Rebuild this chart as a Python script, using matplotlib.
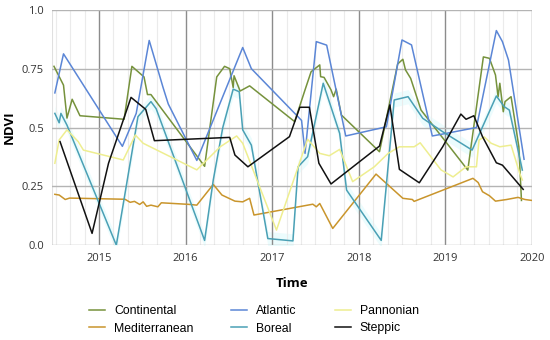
import numpy as np
import matplotlib.pyplot as plt

# decimal years / NDVI
cont_t = [2014.48, 2014.59, 2014.63, 2014.69, 2014.78, 2015.29, 2015.38, 2015.52, 2015.56, 2015.60,
          2016.22, 2016.36, 2016.45, 2016.51, 2016.55, 2016.56, 2016.63, 2016.74, 2017.26, 2017.38,
          2017.45, 2017.55, 2017.56, 2017.60, 2017.68, 2017.71, 2017.74, 2017.80, 2018.24, 2018.45,
          2018.51, 2018.54, 2018.60, 2018.72, 2019.26, 2019.44, 2019.51, 2019.58, 2019.61, 2019.63,
          2019.67, 2019.69, 2019.76, 2019.85, 2019.88]
cont_v = [0.76, 0.68, 0.54, 0.62, 0.55, 0.535, 0.76, 0.715, 0.64, 0.64,
          0.335, 0.715, 0.76, 0.75, 0.67, 0.72, 0.655, 0.677, 0.525, 0.66,
          0.737, 0.766, 0.716, 0.713, 0.66, 0.631, 0.663, 0.553, 0.397, 0.77,
          0.79, 0.745, 0.709, 0.574, 0.319, 0.80, 0.794, 0.723, 0.631, 0.688,
          0.567, 0.61, 0.631, 0.418, 0.19]

atl_t = [2014.49, 2014.59, 2015.27, 2015.43, 2015.58, 2015.74, 2015.80, 2016.13, 2016.66, 2016.76,
         2017.34, 2017.38, 2017.51, 2017.63, 2017.85, 2018.32, 2018.50, 2018.61, 2018.85, 2019.01,
         2019.36, 2019.59, 2019.66, 2019.73, 2019.91]
atl_v = [0.647, 0.813, 0.42, 0.56, 0.87, 0.67, 0.60, 0.36, 0.84, 0.75,
         0.53, 0.39, 0.865, 0.85, 0.464, 0.503, 0.872, 0.851, 0.464, 0.475,
         0.50, 0.912, 0.865, 0.787, 0.365]

pan_t = [2014.49, 2014.54, 2014.63, 2014.76, 2014.82, 2015.28, 2015.42, 2015.51, 2016.13, 2016.40,
         2016.59, 2016.66, 2017.05, 2017.41, 2017.55, 2017.66, 2017.78, 2017.93, 2018.18, 2018.34,
         2018.47, 2018.64, 2018.71, 2018.95, 2019.09, 2019.24, 2019.36, 2019.39, 2019.45, 2019.53,
         2019.63, 2019.76, 2019.86, 2019.89]
pan_v = [0.348, 0.447, 0.49, 0.44, 0.404, 0.362, 0.468, 0.433, 0.32, 0.418,
         0.464, 0.433, 0.064, 0.45, 0.39, 0.38, 0.407, 0.27, 0.333, 0.39,
         0.418, 0.418, 0.435, 0.32, 0.29, 0.333, 0.333, 0.447, 0.46, 0.433,
         0.418, 0.425, 0.305, 0.277]

med_t = [2014.49, 2014.54, 2014.61, 2014.66, 2015.30, 2015.36, 2015.41, 2015.47, 2015.51, 2015.55,
         2015.60, 2015.68, 2015.72, 2016.05, 2016.13, 2016.32, 2016.42, 2016.57, 2016.66, 2016.74,
         2016.79, 2017.47, 2017.51, 2017.55, 2017.57, 2017.70, 2018.20, 2018.51, 2018.62, 2018.64,
         2019.32, 2019.38, 2019.43, 2019.51, 2019.58, 2019.71, 2019.84, 2019.92, 2020.0]
med_v = [0.216, 0.213, 0.194, 0.20, 0.195, 0.182, 0.186, 0.173, 0.184, 0.165,
         0.17, 0.163, 0.18, 0.173, 0.17, 0.258, 0.213, 0.187, 0.184, 0.199,
         0.128, 0.174, 0.163, 0.177, 0.163, 0.071, 0.302, 0.199, 0.194, 0.186,
         0.284, 0.266, 0.227, 0.21, 0.187, 0.194, 0.203, 0.194, 0.19]

bor_t = [2014.49, 2014.54, 2014.56, 2014.63, 2015.20, 2015.45, 2015.60, 2015.66, 2016.22, 2016.32,
         2016.43, 2016.55, 2016.62, 2016.66, 2016.76, 2016.95, 2017.24, 2017.30, 2017.41, 2017.59,
         2017.78, 2017.86, 2018.26, 2018.41, 2018.57, 2018.74, 2018.97, 2019.31, 2019.59, 2019.68,
         2019.74, 2019.89]
bor_v = [0.56, 0.52, 0.56, 0.51, 0.0, 0.546, 0.61, 0.58, 0.02, 0.277,
         0.50, 0.663, 0.652, 0.49, 0.425, 0.028, 0.018, 0.333, 0.376, 0.688,
         0.475, 0.234, 0.02, 0.617, 0.631, 0.539, 0.482, 0.404, 0.634, 0.589,
         0.574, 0.319]

step_t = [2014.55, 2014.92, 2015.11, 2015.37, 2015.54, 2015.64, 2016.51, 2016.57, 2016.72, 2017.20,
          2017.32, 2017.43, 2017.54, 2017.68, 2018.24, 2018.36, 2018.47, 2018.70, 2018.97, 2019.18,
          2019.24, 2019.33, 2019.43, 2019.59, 2019.66, 2019.90]
step_v = [0.44, 0.05, 0.348, 0.628, 0.577, 0.444, 0.458, 0.383, 0.333, 0.461,
          0.586, 0.586, 0.348, 0.26, 0.421, 0.596, 0.322, 0.265, 0.418, 0.557,
          0.535, 0.55, 0.461, 0.35, 0.34, 0.237]

years = [2015, 2016, 2017, 2018, 2019, 2020]
yticks = [0.0, 0.25, 0.5, 0.75, 1.0]
ylabels = ["0.0", "0.25", "0.5", "0.75", "1.0"]

plt.rcParams['font.family'] = ['Open Sans', 'DejaVu Sans']

fig = plt.figure(figsize=(5.5, 3.4), dpi=100)
ax = fig.add_axes([0.095, 0.279, 0.872, 0.692])

# faint band behind the boreal series
bv = np.array(bor_v)
ax.fill_between(bor_t, bv - 0.03, bv + 0.03, color='#ecfcfd', lw=0, zorder=1)

ax.plot(cont_t, cont_v, color='#76923c', lw=1.1, label='Continental', zorder=3)
ax.plot(med_t, med_v, color='#c9952c', lw=1.1, label='Mediterranean', zorder=3)
ax.plot(atl_t, atl_v, color='#5b86d6', lw=1.1, label='Atlantic', zorder=3)
ax.plot(bor_t, bor_v, color='#4aa0b5', lw=1.1, label='Boreal', zorder=3)
ax.plot(pan_t, pan_v, color='#eeee90', lw=1.1, label='Pannonian', zorder=3)
ax.plot(step_t, step_v, color='#111111', lw=1.1, label='Steppic', zorder=3)

ax.set_xlim(2014.46, 2020.0)
ax.set_ylim(0, 1.0)
ax.set_xticks(years)
ax.set_xticklabels([str(y) for y in years])
ax.set_xticks(np.arange(2014.5, 2020.0, 1/6), minor=True)
ax.set_yticks(yticks)
ax.set_yticklabels(ylabels)
ax.grid(which='major', axis='x', color='#8c8c8c', lw=1.0, zorder=0)
ax.grid(which='minor', axis='x', color='#ebebeb', lw=0.8, zorder=0)
ax.grid(which='major', axis='y', color='#b4b4b4', lw=1.0, zorder=0)
ax.tick_params(which='both', length=0, labelsize=8, colors='#333333', pad=6)
for s in ax.spines.values():
    s.set_visible(False)
ax.axvline(2014.46, color='#e0e0e0', lw=0.8, zorder=0)

ax.set_xlabel('Time', fontsize=9.5, fontweight='bold', labelpad=9)
ax.set_ylabel('NDVI', fontsize=9.5, fontweight='bold', labelpad=4)

h, l = ax.get_legend_handles_labels()
fig.legend(h, l, ncol=3, frameon=False, loc='upper left',
           bbox_to_anchor=(89 / 550, 1 - 305 / 340), borderpad=0, borderaxespad=0,
           prop={'family': 'Liberation Sans', 'size': 8.8},
           handlelength=1.3, columnspacing=3.1, handletextpad=0.75, labelspacing=0.45)

fig.savefig('out.png', dpi=100)
